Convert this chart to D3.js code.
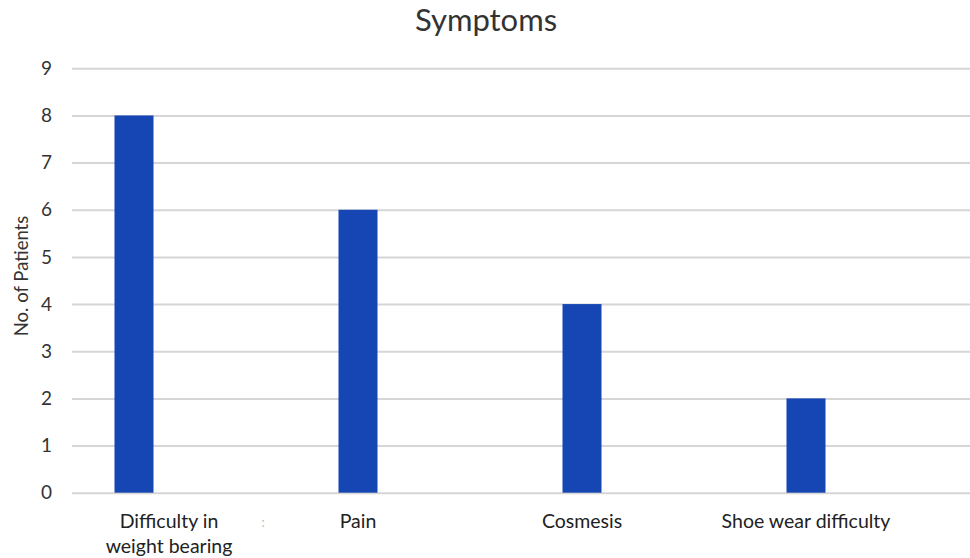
<!DOCTYPE html>
<html>
<head>
<meta charset="utf-8">
<script src="https://cdn.jsdelivr.net/npm/d3@7"></script>
<style>
  html, body { margin: 0; padding: 0; background: #fff; }
  svg { display: block; font-family: Lato, "Open Sans", sans-serif; }
</style>
</head>
<body>
<svg id="chart" width="970" height="558"></svg>
<script>
// Symptom counts
const categories = ["Difficulty in weight bearing", "Pain", "Cosmesis", "Shoe wear difficulty"];
const patients = [8, 6, 4, 2];
const yTicks = [0, 1, 2, 3, 4, 5, 6, 7, 8, 9];
// wrapped category labels (line breaks)
const labelLines = [["Difficulty in", "weight bearing"], ["Pain"], ["Cosmesis"], ["Shoe wear difficulty"]];

const svg = d3.select("#chart");
const plotLeft = 72, plotRight = 970;
const y0 = 492.7, y9 = 68.3;

const y = d3.scaleLinear().domain([0, 9]).range([y0, y9]);
const x = d3.scalePoint().domain(categories).range([134, 806]);
const barW = 39;

// title
svg.append("text")
  .attr("x", 486).attr("y", 31)
  .attr("text-anchor", "middle")
  .attr("font-size", 31)
  .attr("fill", "#333")
  .text("Symptoms");

// gridlines + tick labels
const yAxis = d3.axisLeft(y).tickValues(yTicks).tickSize(-(plotRight - plotLeft)).tickPadding(20).tickFormat(d3.format("d"));
const g = svg.append("g").attr("transform", `translate(${plotLeft},0)`).call(yAxis);
g.select(".domain").remove();
g.selectAll(".tick line").attr("stroke", "#d6d6d6").attr("stroke-width", 2);
g.selectAll(".tick text").attr("font-size", 19).attr("fill", "#333").attr("font-family", "Lato, 'Open Sans', sans-serif");

// y axis title
svg.append("text")
  .attr("transform", "translate(28,276) rotate(-90)")
  .attr("text-anchor", "middle")
  .attr("font-size", 18.5)
  .attr("fill", "#333")
  .text("No. of Patients");

// bars
svg.append("g").selectAll("rect")
  .data(categories.map((c, i) => ({ c, v: patients[i] })))
  .join("rect")
  .attr("x", d => x(d.c) - barW / 2)
  .attr("y", d => y(d.v))
  .attr("width", barW)
  .attr("height", d => y(0) - y(d.v))
  .attr("fill", "#1546b3");

// category labels
const lab = svg.append("g").selectAll("text")
  .data(categories.map((c, i) => ({ c, lines: labelLines[i] })))
  .join("text")
  .attr("text-anchor", "middle")
  .attr("font-size", 19.5)
  .attr("fill", "#222")
  .attr("transform", d => `translate(${x(d.c) + (d.lines.length > 1 ? 35 : 0)},528)`);
lab.selectAll("tspan")
  .data(d => d.lines)
  .join("tspan")
  .attr("x", 0)
  .attr("dy", (d, i) => i === 0 ? 0 : 25)
  .text(d => d);

// faint separator mark
svg.append("text")
  .attr("x", 263).attr("y", 527)
  .attr("text-anchor", "middle")
  .attr("font-size", 13)
  .attr("fill", "#bbb")
  .text(":");
</script>
</body>
</html>
